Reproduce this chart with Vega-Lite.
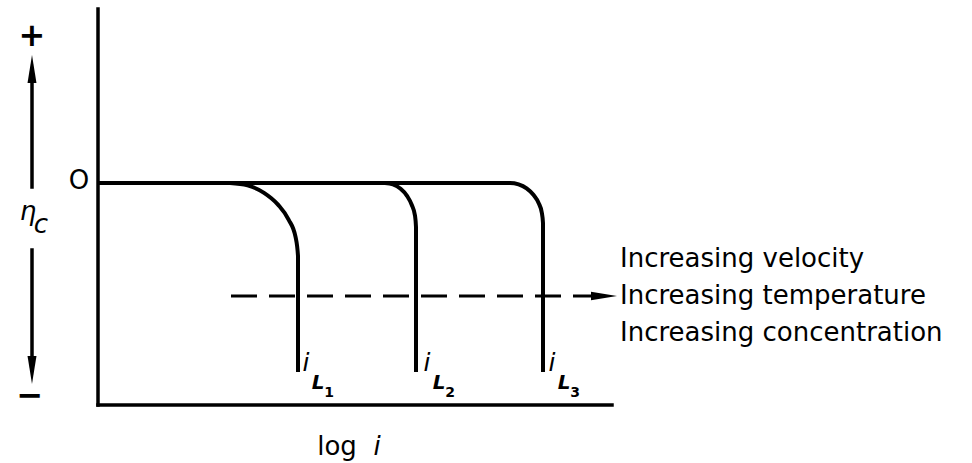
{
  "$schema": "https://vega.github.io/schema/vega-lite/v6.json",
  "width": 972,
  "height": 463,
  "padding": 0,
  "autosize": {"type": "fit", "contains": "padding"},
  "background": "white",
  "config": {"view": {"stroke": null}, "text": {"font": "DejaVu Sans", "color": "black"}},
  "datasets": {
    "frame": [
      {"part": "y-axis", "x": 0, "x2": 0, "y": 8.7, "y2": -11.1},
      {"part": "x-axis", "x": 0, "x2": 25.7, "y": -11.1, "y2": -11.1},
      {"part": "eta-up", "x": -3.3, "x2": -3.3, "y": 5.0, "y2": -0.2},
      {"part": "eta-down", "x": -3.3, "x2": -3.3, "y": -3.35, "y2": -8.85}
    ],
    "curves": [
      {"curve": "iL3", "k": 0, "x": 0, "y": 0},
      {"curve": "iL3", "k": 1, "x": 20.6, "y": 0},
      {"curve": "iL3", "k": 2, "x": 21.03, "y": -0.07},
      {"curve": "iL3", "k": 3, "x": 21.43, "y": -0.27},
      {"curve": "iL3", "k": 4, "x": 21.77, "y": -0.59},
      {"curve": "iL3", "k": 5, "x": 22.03, "y": -1.0},
      {"curve": "iL3", "k": 6, "x": 22.19, "y": -1.48},
      {"curve": "iL3", "k": 7, "x": 22.25, "y": -2.0},
      {"curve": "iL3", "k": 8, "x": 22.25, "y": -9.45},
      {"curve": "iL1", "k": 0, "x": 6.6, "y": 0},
      {"curve": "iL1", "k": 1, "x": 7.48, "y": -0.12},
      {"curve": "iL1", "k": 2, "x": 8.3, "y": -0.49},
      {"curve": "iL1", "k": 3, "x": 9.0, "y": -1.08},
      {"curve": "iL1", "k": 4, "x": 9.53, "y": -1.83},
      {"curve": "iL1", "k": 5, "x": 9.88, "y": -2.71},
      {"curve": "iL1", "k": 6, "x": 10.0, "y": -3.65},
      {"curve": "iL1", "k": 7, "x": 10.0, "y": -9.45},
      {"curve": "iL2", "k": 0, "x": 14.35, "y": 0},
      {"curve": "iL2", "k": 1, "x": 14.75, "y": -0.075},
      {"curve": "iL2", "k": 2, "x": 15.13, "y": -0.29},
      {"curve": "iL2", "k": 3, "x": 15.45, "y": -0.64},
      {"curve": "iL2", "k": 4, "x": 15.69, "y": -1.1},
      {"curve": "iL2", "k": 5, "x": 15.85, "y": -1.63},
      {"curve": "iL2", "k": 6, "x": 15.9, "y": -2.2},
      {"curve": "iL2", "k": 7, "x": 15.9, "y": -9.45}
    ],
    "trend": [{"x": 6.65, "x2": 24.7, "y": -5.65}],
    "heads": [
      {"dir": "up", "x": -3.3, "y": 5.7},
      {"dir": "down", "x": -3.3, "y": -9.35},
      {"dir": "right", "x": 25.3, "y": -5.65}
    ],
    "labels": [
      {"role": "sign", "text": "+", "x": -3.3, "y": 7.35},
      {"role": "sign", "text": "−", "x": -3.4, "y": -10.65},
      {"role": "zero", "text": "O", "x": -0.95, "y": 0.1},
      {"role": "eta", "text": "η", "x": -3.5, "y": -1.45},
      {"role": "sub", "text": "c", "x": -2.85, "y": -2.1},
      {"role": "xtitle", "text": "log", "x": 11.95, "y": -13.2},
      {"role": "xi", "text": "i", "x": 13.95, "y": -13.2},
      {"role": "il", "text": "i", "x": 10.4, "y": -9.0},
      {"role": "L", "text": "L", "x": 11.0, "y": -10.0},
      {"role": "n", "text": "1", "x": 11.55, "y": -10.5},
      {"role": "il", "text": "i", "x": 16.45, "y": -9.0},
      {"role": "L", "text": "L", "x": 17.05, "y": -10.0},
      {"role": "n", "text": "2", "x": 17.6, "y": -10.5},
      {"role": "il", "text": "i", "x": 22.7, "y": -9.0},
      {"role": "L", "text": "L", "x": 23.3, "y": -10.0},
      {"role": "n", "text": "3", "x": 23.85, "y": -10.5},
      {"role": "note", "text": "Increasing velocity", "x": 26.1, "y": -3.8},
      {"role": "note", "text": "Increasing temperature", "x": 26.1, "y": -5.65},
      {"role": "note", "text": "Increasing concentration", "x": 26.1, "y": -7.5}
    ]
  },
  "encoding": {
    "x": {"type": "quantitative", "scale": {"domain": [-4.9, 43.7], "nice": false, "zero": false}, "axis": null},
    "y": {"type": "quantitative", "scale": {"domain": [-14, 9.15], "nice": false, "zero": false}, "axis": null}
  },
  "layer": [
    {
      "data": {"name": "frame"},
      "mark": {"type": "rule", "color": "black", "strokeWidth": 3.5, "strokeCap": "square"},
      "encoding": {"x": {"field": "x"}, "x2": {"field": "x2"}, "y": {"field": "y"}, "y2": {"field": "y2"}}
    },
    {
      "data": {"name": "curves"},
      "mark": {"type": "line", "color": "black", "strokeWidth": 4, "strokeJoin": "round", "interpolate": "monotone"},
      "encoding": {"x": {"field": "x"}, "y": {"field": "y"}, "detail": {"field": "curve"}, "order": {"field": "k"}}
    },
    {
      "data": {"name": "trend"},
      "mark": {"type": "rule", "color": "black", "strokeWidth": 3, "strokeDash": [26, 12]},
      "encoding": {"x": {"field": "x"}, "x2": {"field": "x2"}, "y": {"field": "y"}}
    },
    {
      "data": {"name": "heads"},
      "transform": [{"filter": "datum.dir === 'right'"}],
      "mark": {"type": "point", "filled": true, "color": "black", "opacity": 1, "size": 676, "shape": "M-1,-0.33L1,0L-1,0.33Z"},
      "encoding": {"x": {"field": "x"}, "y": {"field": "y"}}
    },
    {
      "data": {"name": "heads"},
      "transform": [{"filter": "datum.dir === 'up'"}],
      "mark": {"type": "point", "filled": true, "color": "black", "opacity": 1, "size": 784, "shape": "M0,-1L0.32,1L-0.32,1Z"},
      "encoding": {"x": {"field": "x"}, "y": {"field": "y"}}
    },
    {
      "data": {"name": "heads"},
      "transform": [{"filter": "datum.dir === 'down'"}],
      "mark": {"type": "point", "filled": true, "color": "black", "opacity": 1, "size": 784, "shape": "M0,1L0.32,-1L-0.32,-1Z"},
      "encoding": {"x": {"field": "x"}, "y": {"field": "y"}}
    },
    {
      "data": {"name": "labels"},
      "transform": [{"filter": "datum.role === 'sign'"}],
      "mark": {"type": "text", "fontSize": 32, "fontWeight": "bold", "align": "center", "baseline": "middle"},
      "encoding": {"x": {"field": "x"}, "y": {"field": "y"}, "text": {"field": "text"}}
    },
    {
      "data": {"name": "labels"},
      "transform": [{"filter": "datum.role === 'zero' || datum.role === 'xtitle'"}],
      "mark": {"type": "text", "fontSize": 26, "align": "center", "baseline": "middle"},
      "encoding": {"x": {"field": "x"}, "y": {"field": "y"}, "text": {"field": "text"}}
    },
    {
      "data": {"name": "labels"},
      "transform": [{"filter": "datum.role === 'eta' || datum.role === 'xi' || datum.role === 'sub'"}],
      "mark": {"type": "text", "fontSize": 26, "fontStyle": "italic", "align": "center", "baseline": "middle"},
      "encoding": {"x": {"field": "x"}, "y": {"field": "y"}, "text": {"field": "text"}}
    },
    {
      "data": {"name": "labels"},
      "transform": [{"filter": "datum.role === 'il'"}],
      "mark": {"type": "text", "fontSize": 25, "fontStyle": "italic", "align": "center", "baseline": "middle"},
      "encoding": {"x": {"field": "x"}, "y": {"field": "y"}, "text": {"field": "text"}}
    },
    {
      "data": {"name": "labels"},
      "transform": [{"filter": "datum.role === 'L'"}],
      "mark": {"type": "text", "fontSize": 20, "fontStyle": "italic", "fontWeight": "bold", "align": "center", "baseline": "middle"},
      "encoding": {"x": {"field": "x"}, "y": {"field": "y"}, "text": {"field": "text"}}
    },
    {
      "data": {"name": "labels"},
      "transform": [{"filter": "datum.role === 'n'"}],
      "mark": {"type": "text", "fontSize": 14, "fontWeight": "bold", "align": "center", "baseline": "middle"},
      "encoding": {"x": {"field": "x"}, "y": {"field": "y"}, "text": {"field": "text"}}
    },
    {
      "data": {"name": "labels"},
      "transform": [{"filter": "datum.role === 'note'"}],
      "mark": {"type": "text", "fontSize": 26, "align": "left", "baseline": "middle"},
      "encoding": {"x": {"field": "x"}, "y": {"field": "y"}, "text": {"field": "text"}}
    }
  ]
}
